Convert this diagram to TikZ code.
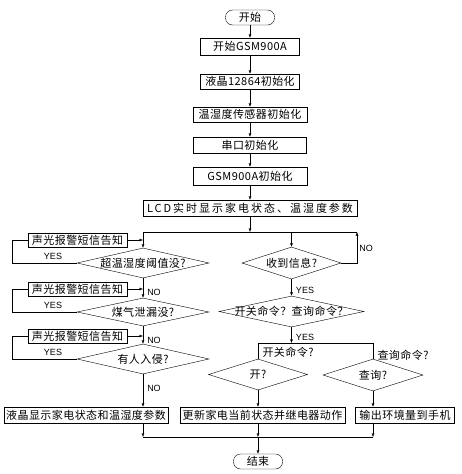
\documentclass[tikz,border=0pt]{standalone}
\usepackage{fontspec}
\setmainfont{Noto Sans CJK SC}[LetterSpace=4]
\newfontfamily\ywfont{Liberation Sans}
\usetikzlibrary{positioning,arrows.meta,shapes.geometric,calc}

\begin{document}
\begin{tikzpicture}[
  x=1pt,y=-1pt,
  font=\fontsize{11}{13}\selectfont,
  框/.style={draw,inner sep=1pt,minimum height=15pt},
  端/.style={draw,rounded corners=7pt,minimum width=49pt,minimum height=15pt,inner sep=1pt},
  判断/.style={draw,diamond,inner sep=0pt},
  箭头/.style={-{Latex[length=3.5pt,width=3pt]}},
  注/.style={font=\ywfont\fontsize{9}{10}\selectfont,inner sep=0pt}
]
\useasboundingbox (0,0) rectangle (461,474);

\node[端] (s) at (250,17.5) {开始};
\node[框,minimum width=99pt,minimum height=17pt] (a) at (250,46.5) {开始GSM900A};
\node[框,minimum width=99pt] (b) at (250,81.5) {液晶12864初始化};
\node[框,minimum width=114pt] (c) at (250,114.5) {温湿度传感器初始化};
\node[框,minimum width=113pt,minimum height=16pt] (d) at (250,145) {串口初始化};
\node[框,minimum width=114pt,minimum height=18pt] (e) at (250,176) {GSM900A初始化};
\node[框,minimum width=214pt,minimum height=16pt] (f) at (250,208) {\addfontfeature{LetterSpace=18}LCD实时显示家电状态、温湿度参数};

\foreach \x/\y in {s/a,a/b,b/c,c/d,d/e,e/f} \draw[箭头] (\x) -- (\y);

\coordinate (j) at (250,232);
\coordinate (jl) at (143,232);
\coordinate (jr) at (357,232);
\draw[箭头] (f) -- (j);
\draw (jl) -- (jr);

\node[判断,minimum width=132pt,minimum height=30pt,label=center:超温湿度阈值没?] (g) at (143,263) {};
\node[框,minimum width=99pt,minimum height=14pt] (i) at (77.5,240) {声光报警短信告知};
\node[判断,minimum width=132pt,minimum height=28pt,label=center:煤气泄漏没?] (k) at (143,312) {};
\node[框,minimum width=99pt,minimum height=14pt] (m) at (77.5,289) {声光报警短信告知};
\node[判断,minimum width=132pt,minimum height=30pt,label=center:有人入侵?] (n) at (143,359) {};
\node[框,minimum width=99pt,minimum height=14pt] (o) at (77.5,336) {声光报警短信告知};
\node[框,minimum width=164pt,minimum height=16pt] (p) at (86,415) {液晶显示家电状态和温湿度参数};

\draw[箭头] (jl) -- (g.north);
\draw[箭头] (g) -- (k);
\draw[箭头] (k) -- (n);
\draw[箭头] (n.south) -- (n.south |- p.north);
\foreach \x in {i,m,o} \draw[箭头] (\x.east) -- (\x.east -| g);
\foreach \x/\y in {g/i,k/m,n/o} \draw (\x.west) -| ([xshift=-16pt]\y.west) -- (\y.west);

\node[注] (y1) at (53,256) {YES};
\node[注] (y2) at (53,305) {YES};
\node[注] (y3) at (53,352) {YES};
\node[注] (n1) at (154,292) {NO};
\node[注] (n2) at (154,340) {NO};
\node[注] (n3) at (154,388) {NO};

\node[判断,minimum width=99pt,minimum height=32pt,label=center:收到信息?] (h) at (291.5,263) {};
\node[判断,minimum width=145pt,minimum height=31pt,label=center:开关命令？查询命令？] (q) at (291.5,311.5) {};
\coordinate (r) at (291.5,343);
\node[判断,minimum width=99pt,minimum height=31pt,label=center:开?] (t) at (258,374.5) {};
\node[判断,minimum width=100pt,minimum height=32pt,label=center:查询?] (u) at (373,375) {};
\node[框,minimum width=165pt,minimum height=16pt] (v) at (262.5,415) {更新家电当前状态并继电器动作};
\node[框,minimum width=99pt,minimum height=16pt] (w) at (405,415) {输出环境量到手机};

\draw[箭头] (h |- j) -- (h.north);
\draw[箭头] (h.east) -| (jr);
\draw[箭头] (h) -- (q);
\draw[箭头] (q.south) -- (r);
\draw (t.north) |- (r -| u) -- (u.north);
\draw[箭头] (t.south) -- (t.south |- v.north);
\draw[箭头] (u.south) -- (u.south |- w.north);

\node[注] (n4) at (366,248) {NO};
\node[注] (y4) at (305,290) {YES};
\node[注] (y5) at (305,337) {YES};
\node[inner sep=0pt] (kg) at (288,352) {开关命令?};
\node[inner sep=0pt] (cx) at (403,355) {查询命令?};

\coordinate (b1) at (143,437);
\coordinate (b2) at (373,437);
\node[端] (z) at (258,461.5) {结束};
\draw[箭头] (b1 |- p.south) -- (b1);
\draw[箭头] (t.south |- v.south) -- (t.south |- b1);
\draw[箭头] (u.south |- w.south) -- (b2);
\draw (b1) -- (b2);
\draw[箭头] (z |- b1) -- (z);
\end{tikzpicture}
\end{document}
